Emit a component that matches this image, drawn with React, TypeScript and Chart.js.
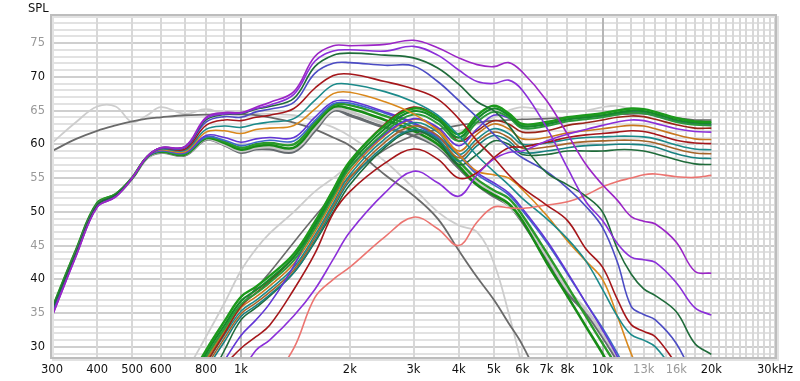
import React, { useEffect, useRef } from 'react';
import { Chart, registerables } from 'chart.js';
Chart.register(...registerables);

const n = null;
// Frequencies (Hz)
const FREQ = [300,350,400,450,500,550,600,700,800,900,1000,1100,1200,1400,1600,1800,2000,2500,3000,3500,4000,4500,5000,5500,6000,7000,8000,9000,10000,11000,12000,13000,14000,16000,18000,20000];

// Axis ticks / labels
const X_GRID = [300,400,500,600,700,800,900,1000,2000,3000,4000,5000,6000,7000,8000,9000,10000,11000,12000,13000,14000,15000,16000,17000,18000,19000,20000,21000,22000,23000,24000,25000,26000,27000,28000,29000,30000];
const X_LABELS: Record<number,string> = {300:'300',400:'400',500:'500',600:'600',800:'800',1000:'1k',2000:'2k',3000:'3k',4000:'4k',5000:'5k',6000:'6k',7000:'7k',8000:'8k',10000:'10k',13000:'13k',16000:'16k',20000:'20k',30000:'30kHz'};
const X_GRAY_LABELS = [13000,16000];
const Y_GRID = [29,30,31,32,33,34,35,36,37,38,39,40,41,42,43,44,45,46,47,48,49,50,51,52,53,54,55,56,57,58,59,60,61,62,63,64,65,66,67,68,69,70,71,72,73,74,75,76,77,78];
const Y_LABELS = [30,35,40,45,50,55,60,65,70,75];

// Low-pass (woofer) responses, dB SPL
const W_PURPLE = [34.5,43.5,50.7,52.2,55.0,58.2,59.5,59.7,64.0,64.7,64.7,65.5,66.2,67.8,73.0,74.6,74.6,74.8,75.4,74.3,72.8,71.8,71.5,72.1,70.7,66.5,61.5,57.0,54.0,51.7,49.3,48.6,48.2,45.5,41.2,40.9];
const W_ORCHID = [34.5,43.5,50.7,52.2,55.0,58.2,59.5,59.6,63.8,64.5,64.6,65.3,65.8,67.4,72.3,73.8,74.0,73.8,74.5,73.2,71.0,69.3,69.0,69.5,68.0,62.5,56.5,51.5,48.7,45.3,43.3,42.9,42.5,39.5,35.8,34.7];
const W_DKGREEN = [35.5,44.0,51.0,52.5,55.0,58.2,59.5,59.6,63.6,64.4,64.5,65.2,65.6,66.8,71.5,73.2,73.5,73.2,72.8,71.3,68.9,66.3,65.0,62.8,60.0,55.8,54.0,52.3,50.0,44.5,40.8,38.6,37.6,35.2,30.5,28.9];
const W_SLATE = [35.0,44.0,51.0,52.4,55.0,58.2,59.4,59.5,63.3,64.1,64.0,64.8,65.2,66.2,70.5,72.0,72.1,71.7,71.6,69.3,66.5,64.0,61.5,59.5,58.0,56.0,53.5,50.8,47.7,42.5,36.0,34.8,34.0,30.5,25.0,n];
const W_DKRED = [35.0,44.0,51.0,52.4,55.0,58.2,59.4,59.3,62.8,63.6,63.5,64.0,64.3,65.3,68.3,70.2,70.4,69.3,68.2,66.7,63.8,60.5,58.0,55.5,53.6,51.0,48.7,44.5,41.8,37.0,33.3,32.3,31.5,27.5,n,n];
const W_TEAL = [35.0,44.0,51.0,52.4,55.0,58.2,59.3,59.1,62.2,62.7,62.5,63.0,63.3,63.8,66.5,68.8,68.9,67.8,66.3,64.3,61.3,58.3,56.0,54.0,52.0,49.0,46.0,42.7,38.5,34.5,31.8,31.0,30.0,26.0,n,n];
const W_ORANGE = [35.0,44.0,51.0,52.4,55.0,58.2,59.2,58.9,61.8,62.0,61.6,62.2,62.4,62.8,65.2,67.5,67.7,66.3,64.5,62.0,58.5,56.0,55.5,55.0,53.3,49.5,45.7,42.7,40.0,34.5,29.0,25.0,n,n,n,n];
const W_VIOLET = [35.0,44.0,51.0,52.4,55.0,58.1,59.1,58.8,61.3,61.0,60.3,60.8,61.0,61.0,64.0,66.3,66.4,64.8,63.2,61.2,58.6,55.8,54.3,52.8,50.5,45.8,41.0,36.5,32.5,28.5,24.0,n,n,n,n,n];
const W_BLUE = [35.0,44.0,51.0,52.4,55.0,58.1,59.0,58.7,61.1,60.6,59.8,60.3,60.6,60.5,63.5,66.0,66.1,64.6,63.0,61.0,58.3,55.5,54.0,52.5,50.2,45.5,40.8,36.5,32.8,29.0,25.0,n,n,n,n,n];
const W_GREEN = [35.5,44.3,51.2,52.6,55.0,58.1,59.0,58.6,61.0,60.4,59.5,60.0,60.2,60.0,63.2,65.8,65.8,64.2,62.5,60.5,57.5,54.8,53.2,52.0,49.5,44.0,39.0,34.5,30.5,27.0,n,n,n,n,n,n];
const W_GREEN2 = [35.6,44.4,51.3,52.6,55.0,58.1,58.9,58.5,60.9,60.2,59.2,59.7,59.9,59.5,62.8,65.5,65.3,63.6,62.0,60.0,56.8,54.0,52.5,51.2,48.7,42.5,37.5,33.0,29.0,25.0,n,n,n,n,n,n];
const W_LTGRAY = [35.0,44.0,51.0,52.4,55.0,58.0,58.9,58.5,60.8,60.0,59.0,59.5,59.6,59.2,62.4,65.2,64.8,63.0,61.7,59.8,57.0,54.3,52.7,51.0,48.8,43.5,38.5,35.5,32.0,28.5,25.0,n,n,n,n,n];
const W_DKGRAY = [35.0,44.0,51.0,52.4,55.0,58.0,58.8,58.4,60.7,59.9,58.8,59.3,59.3,58.9,62.0,65.0,64.3,62.5,61.3,59.6,56.5,54.0,52.3,51.0,48.5,43.0,38.0,35.0,31.5,28.0,25.0,n,n,n,n,n];

// High-pass (tweeter) responses, dB SPL
const T_DKGRAY = [n,n,n,n,n,n,n,22.0,28.0,32.3,36.0,38.7,41.0,45.5,49.3,52.5,55.2,59.2,61.3,62.2,62.8,63.2,63.5,63.6,63.7,63.8,64.0,64.2,64.3,64.4,64.5,64.5,64.3,63.9,63.6,63.6];
const T_GREEN = [n,n,n,n,n,n,n,24.0,29.5,33.8,37.4,38.9,40.5,43.8,48.5,53.3,57.5,62.8,65.3,64.0,61.5,64.3,65.7,64.6,63.0,63.3,64.0,64.3,64.6,65.0,65.3,65.2,64.8,63.9,63.4,63.3];
const T_GREEN2 = [n,n,n,n,n,n,n,23.5,29.0,33.2,36.8,38.4,40.0,43.3,48.0,52.8,57.0,62.3,64.9,63.6,61.0,63.8,65.3,64.3,62.7,63.0,63.7,64.0,64.3,64.7,65.0,64.9,64.5,63.6,63.2,63.1];
const T_GREEN3 = [n,n,n,n,n,n,n,23.0,28.5,32.7,36.3,37.9,39.5,42.8,47.5,52.3,56.5,61.8,64.4,63.1,60.5,63.3,64.8,64.0,62.4,62.7,63.4,63.7,64.0,64.4,64.7,64.6,64.2,63.3,62.9,62.8];
const T_VIOLET = [n,n,n,n,n,n,n,n,24.0,28.0,31.7,34.0,36.4,42.0,48.3,53.0,56.5,61.5,63.8,62.5,59.8,62.3,64.3,63.9,62.7,63.0,63.7,64.0,64.2,64.5,64.8,64.7,64.2,63.4,63.0,62.9];
const T_DKRED = [n,n,n,n,n,n,n,22.0,27.5,32.0,36.0,38.0,39.7,43.3,48.3,53.3,57.3,63.0,65.5,64.0,60.5,62.0,63.5,63.0,61.8,62.0,62.8,63.2,63.6,64.0,64.2,64.1,63.7,62.9,62.4,62.4];
const T_ORCHID = [n,n,n,n,n,n,n,n,n,n,26.0,29.5,31.0,34.6,38.5,43.0,47.0,52.8,56.0,54.3,52.3,55.5,57.8,58.8,59.0,60.5,61.5,62.2,62.8,63.3,63.6,63.5,63.1,62.3,61.9,61.8];
const T_ORANGE = [n,n,n,n,n,n,n,22.5,28.0,32.3,35.8,37.4,39.0,42.3,47.0,51.8,56.0,61.3,63.7,62.3,59.0,61.5,63.0,62.3,60.8,61.0,61.7,62.0,62.3,62.6,62.8,62.7,62.3,61.4,60.8,60.7];
const T_DKRED2 = [n,n,n,n,n,n,n,n,24.5,27.3,29.8,31.5,33.2,38.5,43.8,49.8,53.0,57.2,59.3,57.8,55.0,55.8,58.0,59.5,59.6,60.3,61.0,61.4,61.6,61.8,62.0,61.9,61.5,60.6,60.2,60.1];
const T_TEAL = [n,n,n,n,n,n,n,22.0,27.5,31.8,35.3,36.9,38.5,41.8,46.5,51.3,55.5,60.8,63.2,61.8,58.5,60.8,62.3,61.6,60.0,60.2,60.7,61.0,61.1,61.2,61.2,61.1,60.8,59.9,59.3,59.2];
const T_BROWN = [n,n,n,n,n,n,n,21.5,27.0,31.3,34.9,36.5,38.1,41.4,46.1,50.9,55.0,60.3,62.7,61.3,58.0,60.3,61.8,61.0,59.4,59.6,60.1,60.4,60.5,60.6,60.6,60.5,60.2,59.3,58.7,58.6];
const T_TEAL2 = [n,n,n,n,n,n,n,21.0,26.5,30.8,34.5,36.1,37.7,41.0,45.7,50.5,54.6,59.8,62.2,60.8,57.5,59.8,61.3,60.5,58.8,59.0,59.5,59.8,59.9,60.0,60.0,59.9,59.6,58.6,58.0,57.9];
const T_DKGREEN = [n,n,n,n,n,n,n,n,24.0,29.5,34.0,35.8,37.5,41.0,45.5,50.0,54.0,59.5,62.0,60.5,57.0,58.5,60.5,60.0,58.5,58.5,59.0,59.0,59.0,59.2,59.2,59.0,58.6,57.7,57.1,57.0];
const T_SALMON = [n,n,n,n,n,n,n,n,n,n,n,n,24.5,29.8,37.3,40.0,41.8,46.3,49.2,47.5,45.0,48.5,50.7,50.6,50.5,51.0,51.5,52.5,53.7,54.5,55.0,55.5,55.6,55.2,55.1,55.4];

// Reference (light/dark gray) responses
const REF_LT_HP = [n,n,n,n,n,n,n,26.0,31.5,36.5,41.3,44.5,46.8,50.0,53.0,55.0,57.0,60.5,62.5,62.3,62.0,63.0,64.0,65.0,65.5,65.0,64.8,65.0,65.5,65.7,65.2,64.7,64.2,63.6,63.5,63.5];
const REF_LT_LP = [60.2,63.3,65.6,65.6,63.3,64.3,65.5,64.5,65.2,64.5,64.3,64.5,64.5,64.3,63.5,62.5,61.2,57.5,53.5,50.0,48.0,47.0,42.5,35.0,27.0,n,n,n,n,n,n,n,n,n,n,n];
const REF_DK_LP = [59.0,60.8,62.0,62.8,63.4,63.8,64.0,64.3,64.4,64.5,64.5,64.3,64.0,63.2,62.2,61.0,59.8,55.5,52.4,49.0,44.3,40.3,37.0,33.5,30.3,23.0,n,n,n,n,n,n,n,n,n,n];

const SERIES = [
  { data: W_PURPLE, color: '#9b25c6', width: 1.6 },
  { data: W_ORCHID, color: '#8b2fd9', width: 1.6 },
  { data: W_DKGREEN, color: '#1f6b3a', width: 1.6 },
  { data: W_SLATE, color: '#4c4cc4', width: 1.6 },
  { data: W_DKRED, color: '#a5161a', width: 1.6 },
  { data: T_ORCHID, color: '#8b2fd9', width: 1.6 },
  { data: T_DKRED2, color: '#a5161a', width: 1.6 },
  { data: T_SALMON, color: '#ec7470', width: 1.6 },
  { data: W_TEAL, color: '#1b8a8a', width: 1.6 },
  { data: W_ORANGE, color: '#d9881c', width: 1.6 },
  { data: T_GREEN, color: '#1c9a1c', width: 2.4 },
  { data: T_GREEN2, color: '#168a2a', width: 2.2 },
  { data: T_GREEN3, color: '#2a9a3a', width: 2.0 },
  { data: T_VIOLET, color: '#6236d6', width: 1.6 },
  { data: T_DKRED, color: '#9a2418', width: 1.6 },
  { data: T_ORANGE, color: '#c8781e', width: 1.6 },
  { data: T_TEAL, color: '#1b8a8a', width: 1.6 },
  { data: T_BROWN, color: '#a5642a', width: 1.6 },
  { data: T_TEAL2, color: '#17807f', width: 1.6 },
  { data: T_DKGREEN, color: '#1f6b3a', width: 1.6 },
  { data: T_DKGRAY, color: '#6a6a6a', width: 1.6 },
  { data: W_VIOLET, color: '#6236d6', width: 1.6 },
  { data: W_BLUE, color: '#3d68c8', width: 1.6 },
  { data: W_GREEN, color: '#2a9a2a', width: 2.4 },
  { data: W_GREEN2, color: '#178c17', width: 2.6 },
  { data: W_LTGRAY, color: '#c8c8c8', width: 3 },
  { data: W_DKGRAY, color: '#666b70', width: 3 },
  { data: REF_DK_LP, color: '#6a6a6a', width: 1.8 },
  { data: REF_LT_HP, color: '#cdcdcd', width: 1.8 },
  { data: REF_LT_LP, color: '#cdcdcd', width: 1.8 },
];

const FONT = 'DejaVu Sans';

const framePlugin = {
  id: 'frame',
  afterDraw(chart: any) {
    const { ctx, chartArea: a } = chart;
    ctx.save();
    ctx.strokeStyle = '#e2e2e2';
    ctx.lineWidth = 2;
    ctx.strokeRect(a.left + 1, a.top + 1, a.right - a.left + 2, a.bottom - a.top + 2);
    ctx.strokeStyle = '#bdbdbd';
    ctx.lineWidth = 2;
    ctx.strokeRect(a.left - 1, a.top - 1, a.right - a.left + 2, a.bottom - a.top + 2);
    ctx.fillStyle = '#111';
    ctx.font = `11.5px "${FONT}"`;
    ctx.textBaseline = 'alphabetic';
    ctx.textAlign = 'left';
    ctx.fillText('SPL', 28, 12);
    ctx.restore();
  },
};

export default function App() {
  const ref = useRef<HTMLCanvasElement | null>(null);
  useEffect(() => {
    if (!ref.current) return;
    const chart = new Chart(ref.current, {
      type: 'line',
      data: {
        datasets: SERIES.map((s) => ({
          data: FREQ.map((f, i) => ({ x: f, y: s.data[i] })),
          borderColor: s.color,
          borderWidth: s.width,
          pointRadius: 0,
          fill: false,
          tension: 0.38,
          spanGaps: false,
        })),
      },
      options: {
        animation: false,
        responsive: false,
        devicePixelRatio: 1,
        layout: { padding: { left: 0, right: 25, top: 16, bottom: 0 } },
        plugins: { legend: { display: false }, tooltip: { enabled: false } },
        events: [],
        scales: {
          x: {
            type: 'logarithmic',
            min: 300,
            max: 30000,
            afterBuildTicks: (s: any) => { s.ticks = X_GRID.map((v) => ({ value: v })); },
            afterFit: (s: any) => { s.height = 24; s.paddingLeft = 0; s.paddingRight = 0; },
            border: { display: false },
            grid: {
              drawTicks: false,
              z: -1,
              color: (c: any) => (c.tick && (c.tick.value === 1000 || c.tick.value === 10000) ? '#b6b6b6' : '#d8d8d8'),
              lineWidth: 2,
            },
            ticks: {
              autoSkip: false,
              maxRotation: 0,
              minRotation: 0,
              padding: 6,
              font: { family: FONT, size: 11.5 },
              color: (c: any) => (c.tick && X_GRAY_LABELS.includes(c.tick.value) ? '#999' : '#111'),
              callback: (v: any) => X_LABELS[Number(v)] ?? '',
            },
          },
          y: {
            type: 'linear',
            min: 28.5,
            max: 79,
            afterBuildTicks: (s: any) => { s.ticks = Y_GRID.map((v) => ({ value: v })); },
            afterFit: (s: any) => { s.width = 52; s.paddingTop = 0; s.paddingBottom = 0; },
            border: { display: false },
            grid: {
              drawTicks: false,
              z: -2,
              color: (c: any) => (c.tick && c.tick.value % 5 === 0 ? '#cfcfcf' : '#e2e2e2'),
              lineWidth: 2,
            },
            ticks: {
              autoSkip: false,
              padding: 7,
              font: { family: FONT, size: 11.5 },
              color: (c: any) => (c.tick && c.tick.value % 10 === 0 ? '#111' : '#999'),
              callback: (v: any) => (Y_LABELS.includes(Number(v)) ? String(v) : ''),
            },
          },
        },
      },
      plugins: [framePlugin],
    } as any);
    return () => chart.destroy();
  }, []);
  return (
    <div style={{ position: 'fixed', left: 0, top: 0, width: 800, height: 381, background: '#fff' }}>
      <canvas ref={ref} width={800} height={381} style={{ display: 'block', width: 800, height: 381 }} />
    </div>
  );
}
